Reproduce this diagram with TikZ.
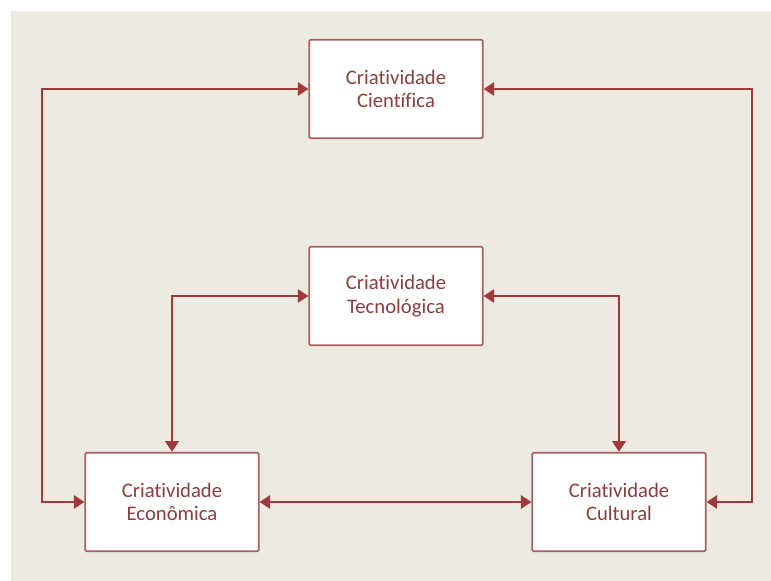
\documentclass[tikz,border=0pt]{standalone}
\usepackage{fontspec}
\setmainfont{Carlito}[Ligatures={NoCommon}]
\usetikzlibrary{arrows.meta}
\definecolor{paper}{RGB}{237,234,225}
\definecolor{boxline}{RGB}{170,95,95}
\definecolor{linkred}{RGB}{160,58,58}
\definecolor{labeltext}{RGB}{140,62,62}

\begin{document}
\begin{tikzpicture}[x=0.75pt,y=-0.75pt,
	every node/.style={font=\fontsize{15.5}{17.5}\selectfont},
	crbox/.style={draw=boxline, line width=1.3pt, fill=white, text=labeltext, align=center, rounded corners=1pt, minimum width=130pt, minimum height=74pt},
	link/.style={linkred, line width=1.7pt, {Triangle[length=8pt,width=10pt]}-{Triangle[length=8pt,width=10pt]}}]
	\useasboundingbox (0,0) rectangle (771,581);
	\fill[white] (0,0) rectangle (771,581);
	\fill[paper] (11,11) rectangle (771,581);
	\node[crbox] (cie) at (396,89) {Criatividade\\Científica};
	\node[crbox] (tec) at (396,296) {Criatividade\\Tecnológica};
	\node[crbox] (eco) at (172,502) {Criatividade\\Econômica};
	\node[crbox] (cul) at (619,502) {Criatividade\\Cultural};
	\coordinate (lft) at (42,502);
	\coordinate (rgt) at (752,502);
	\draw[link] (cie.west) -| (lft) -- (eco.west);
	\draw[link] (cie.east) -| (rgt) -- (cul.east);
	\draw[link] (tec.west) -| (eco.north);
	\draw[link] (tec.east) -| (cul.north);
	\draw[link] (eco.east) -- (cul.west);
\end{tikzpicture}
\end{document}
